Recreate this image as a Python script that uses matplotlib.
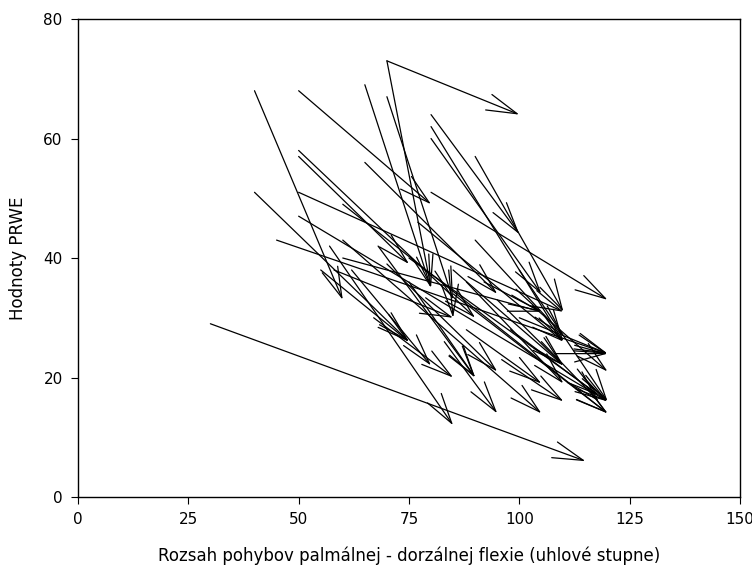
import matplotlib
matplotlib.use("Agg")
import matplotlib.pyplot as plt

# arrows: start (x0, y0) -> end (x1, y1)
x_start = [30, 70, 70, 40, 50, 65, 70, 50, 50, 50, 45, 50, 40, 65, 80, 80, 80,
           90, 80, 90, 60, 57, 60, 70, 68, 85, 88, 75, 85, 100, 100, 62, 55,
           58, 92, 95, 98, 103, 105, 108, 75, 67, 88, 83, 96, 84, 60, 77]
y_start = [29, 73, 73, 68, 68, 69, 67, 58, 57, 51, 43, 47, 51, 56, 64, 62, 60,
           57, 51, 43, 43, 42, 49, 39, 42, 38, 36, 40, 34, 38, 30, 38, 38,
           38, 36, 33, 28, 32, 26, 24, 36, 30, 28, 26, 23, 38, 40, 46]
x_end = [115, 100, 80, 60, 80, 80, 85, 90, 75, 110, 120, 120, 75, 95, 100, 110, 105,
         110, 120, 110, 105, 85, 120, 95, 90, 110, 110, 120, 120, 120, 120, 80, 75,
         85, 105, 110, 118, 120, 118, 120, 90, 85, 105, 95, 110, 85, 105, 110]
y_end = [6, 64, 35, 33, 49, 35, 33, 30, 39, 31, 24, 16, 26, 34, 44, 26, 34,
         31, 33, 27, 14, 12, 14, 21, 20, 22, 19, 16, 14, 16, 24, 22, 26,
         30, 31, 22, 17, 21, 16, 24, 20, 20, 19, 14, 16, 30, 31, 26]

fig = plt.figure(figsize=(7.52, 5.73), dpi=100)
ax = fig.add_axes([0.1037, 0.1326, 0.8803, 0.8342])

for x0, y0, x1, y1 in zip(x_start, y_start, x_end, y_end):
    ax.annotate('', xy=(x1, y1), xytext=(x0, y0),
                arrowprops=dict(arrowstyle='->,head_length=2.2,head_width=0.6',
                                color='black', lw=0.9, shrinkA=0, shrinkB=0,
                                mutation_scale=10))

ax.set_xlim(0, 150)
ax.set_ylim(0, 80)
ax.set_xticks([0, 25, 50, 75, 100, 125, 150])
ax.set_yticks([0, 20, 40, 60, 80])
ax.tick_params(direction='out', length=5, labelsize=11, pad=6)
for s in ax.spines.values():
    s.set_linewidth(1.0)

ax.set_xlabel('Rozsah pohybov palmálnej - dorzálnej flexie (uhlové stupne)',
              fontsize=12, labelpad=14)
ax.set_ylabel('Hodnoty PRWE', fontsize=12, labelpad=12)

fig.savefig('out.png', dpi=100)
